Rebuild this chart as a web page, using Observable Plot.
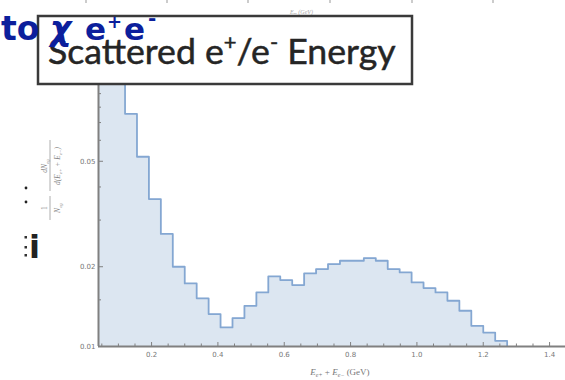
<!DOCTYPE html>
<html><head><meta charset="utf-8">
<script src="https://cdn.jsdelivr.net/npm/d3@7"></script>
<script src="https://cdn.jsdelivr.net/npm/@observablehq/plot@0.6"></script>
<style>
html,body{margin:0;padding:0;background:#fff;}
#wrap{position:relative;width:565px;height:380px;overflow:hidden;background:#fff;}
#wrap svg{position:absolute;left:0;top:0;}
</style></head><body><div id="wrap"></div>
<script>
// Histogram: bin start, bin width and per-bin values (1/N dN/dE)
const binStart = 0.012;
const binWidth = 0.036;
const binValues = [0.2, 0.14, 0.105, 0.0755, 0.0520, 0.0360, 0.0266, 0.0200, 0.0173, 0.0152, 0.01326,
  0.0118, 0.0128, 0.01424, 0.0160, 0.01838, 0.01781, 0.01705, 0.01887, 0.0196, 0.02047,
  0.02107, 0.02107, 0.02157, 0.02107, 0.0196, 0.01904, 0.01745, 0.01662, 0.0160, 0.01488,
  0.01364, 0.01197, 0.01129, 0.01051];
const xDomain = [0.04, 1.448];
const yDomain = [0.01, 0.1];
const xMajorTicks = [0.2, 0.4, 0.6, 0.8, 1.0, 1.2, 1.4];
const xMinorTicks = [0.05, 0.1, 0.15, 0.25, 0.3, 0.35, 0.45, 0.5, 0.55, 0.65, 0.7, 0.75, 0.85, 0.9, 0.95, 1.05, 1.1, 1.15, 1.25, 1.3, 1.35, 1.45];
const yMajorTicks = [0.01, 0.02, 0.05];
const yMinorTicks = [0.015, 0.03, 0.04, 0.06, 0.07, 0.08, 0.09];

const steps = binValues.map((v, i) => ({x: binStart + i * binWidth, y: v}));
steps.push({x: binStart + binValues.length * binWidth, y: yDomain[0]});

const fillColor = "#dce6f1";
const lineColor = "#84a7d2";
const axisColor = "#808080";
const labelColor = "#777";

const chart = Plot.plot({
  width: 565, height: 380,
  marginLeft: 98, marginRight: 0, marginTop: 81, marginBottom: 34,
  style: {background: "transparent", fontFamily: "DejaVu Sans", fontSize: "7px", color: labelColor, overflow: "visible"},
  x: {domain: xDomain},
  y: {type: "log", domain: yDomain},
  marks: [
    Plot.areaY(steps, {x: "x", y1: () => yDomain[0], y2: "y", curve: "step-after", fill: fillColor, clip: true}),
    Plot.line(steps, {x: "x", y: "y", curve: "step-after", stroke: lineColor, strokeWidth: 1.8, clip: true}),
    Plot.ruleX([xDomain[0]], {stroke: axisColor, strokeWidth: 2}),
    Plot.ruleY([yDomain[0]], {stroke: axisColor, strokeWidth: 2}),
    Plot.axisY(yMajorTicks, {anchor: "left", tickSize: -5, tickPadding: 8, tickFormat: d3.format(".2f"), stroke: axisColor, fill: labelColor, label: null}),
    Plot.axisY(yMinorTicks, {anchor: "left", tickSize: -3, tickFormat: () => "", stroke: axisColor, label: null}),
    Plot.axisX(xMajorTicks, {anchor: "bottom", tickSize: -4, tickPadding: 10, tickFormat: d3.format(".1f"), stroke: axisColor, fill: labelColor, label: null}),
    Plot.axisX(xMinorTicks, {anchor: "bottom", tickSize: -2.5, tickFormat: () => "", stroke: axisColor, label: null})
  ]
});
document.getElementById("wrap").appendChild(chart);

// Overlay: axis labels, slide title box and slide text fragments
const NS = "http://www.w3.org/2000/svg";
const ov = d3.select("#wrap").append("svg").attr("xmlns", NS).attr("width", 565).attr("height", 380).style("pointer-events", "none");

// ticks of the chart cut off at the top
const topTicks = [86, 167, 248, 330, 412, 493];
ov.selectAll("line.tt").data(topTicks).join("line").attr("x1", d => d).attr("x2", d => d).attr("y1", 0).attr("y2", 3).attr("stroke", "#aaa").attr("stroke-width", 1.2);
ov.append("text").attr("x", 290).attr("y", 14).attr("font-family", "Liberation Serif").attr("font-style", "italic").attr("font-size", 6).attr("fill", "#aaa").text("Eₑₑ (GeV)");

// slide text fragments at left
ov.append("circle").attr("cx", 26).attr("cy", 188).attr("r", 1.4).attr("fill", "#222");
ov.append("circle").attr("cx", 26).attr("cy", 202).attr("r", 1.4).attr("fill", "#222");
ov.append("text").attr("x", 29).attr("y", 258).attr("font-family", "DejaVu Sans").attr("font-weight", "bold").attr("font-size", 32).attr("fill", "#222").text("i");
ov.selectAll("rect.frag").data([236, 246, 254]).join("rect").attr("x", 24.5).attr("y", d => d).attr("width", 2.5).attr("height", 2.5).attr("fill", "#333");

// y-axis label (rotated fraction)
const yl = ov.append("g").attr("transform", "translate(50,180) rotate(-90)").attr("font-family", "Liberation Serif").attr("font-size", 7.5).attr("fill", "#888").attr("text-anchor", "middle");
yl.append("text").attr("x", -28).attr("y", -3).text("1");
yl.append("line").attr("x1", -40).attr("x2", -16).attr("y1", 0).attr("y2", 0).attr("stroke", "#999").attr("stroke-width", 0.8);
const nEg = yl.append("text").attr("x", -28).attr("y", 10).attr("font-style", "italic");
nEg.append("tspan").text("N");
nEg.append("tspan").attr("font-size", 5).attr("dy", 1.5).text("eg");
const dN = yl.append("text").attr("x", 14).attr("y", -3).attr("font-style", "italic");
dN.append("tspan").text("dN");
dN.append("tspan").attr("font-size", 5).attr("dy", 1.5).text("eg");
yl.append("line").attr("x1", -11).attr("x2", 40).attr("y1", 0).attr("y2", 0).attr("stroke", "#999").attr("stroke-width", 0.8);
const dE = yl.append("text").attr("x", 14).attr("y", 10).attr("font-style", "italic");
dE.append("tspan").text("d(E");
dE.append("tspan").attr("font-size", 5).attr("dy", 1.5).text("e+");
dE.append("tspan").attr("dy", -1.5).text(" + E");
dE.append("tspan").attr("font-size", 5).attr("dy", 1.5).text("e−");
dE.append("tspan").attr("dy", -1.5).text(")");

// x-axis label
const xl = ov.append("text").attr("x", 340).attr("y", 375).attr("text-anchor", "middle").attr("font-family", "Liberation Serif").attr("font-size", 9).attr("fill", "#777");
xl.append("tspan").attr("font-style", "italic").text("E");
xl.append("tspan").attr("font-style", "italic").attr("font-size", 6).attr("dy", 2).text("e+");
xl.append("tspan").attr("dy", -2).text(" + ");
xl.append("tspan").attr("font-style", "italic").text("E");
xl.append("tspan").attr("font-style", "italic").attr("font-size", 6).attr("dy", 2).text("e−");
xl.append("tspan").attr("dy", -2).text(" (GeV)");

// title box
ov.append("rect").attr("x", 38).attr("y", 16).attr("width", 374).attr("height", 68).attr("fill", "#fff").attr("stroke", "#3a3a3a").attr("stroke-width", 2.5);
const title = ov.append("text").attr("x", 48).attr("y", 64).attr("font-family", "Lato").attr("font-size", 37).attr("fill", "#252525").attr("stroke", "#252525").attr("stroke-width", 0.5);
title.append("tspan").text("Scattered e");
title.append("tspan").attr("font-size", 22).attr("dy", -14).text("+");
title.append("tspan").attr("dy", 14).text("/e");
title.append("tspan").attr("font-size", 22).attr("dy", -14).text("-");
title.append("tspan").attr("dy", 14).text(" Energy");
const tw = title.node().getBBox().width;
title.attr("font-size", 37 * 347 / tw);

// slide heading fragment in blue
const blue = ov.append("text").attr("font-family", "DejaVu Sans").attr("font-weight", "bold").attr("font-size", 33).attr("fill", "#0c1f9c");
blue.append("tspan").attr("x", 1).attr("y", 40).text("to");
blue.append("tspan").attr("x", 50).attr("y", 40).attr("font-style", "italic").text("χ");
blue.append("tspan").attr("x", 85).attr("y", 40).attr("font-size", 31).text("e");
blue.append("tspan").attr("x", 107).attr("y", 28).attr("font-size", 18).text("+");
blue.append("tspan").attr("x", 124).attr("y", 40).attr("font-size", 31).text("e");
blue.append("tspan").attr("x", 148).attr("y", 25).attr("font-size", 20).text("-");
</script>
</body></html>
